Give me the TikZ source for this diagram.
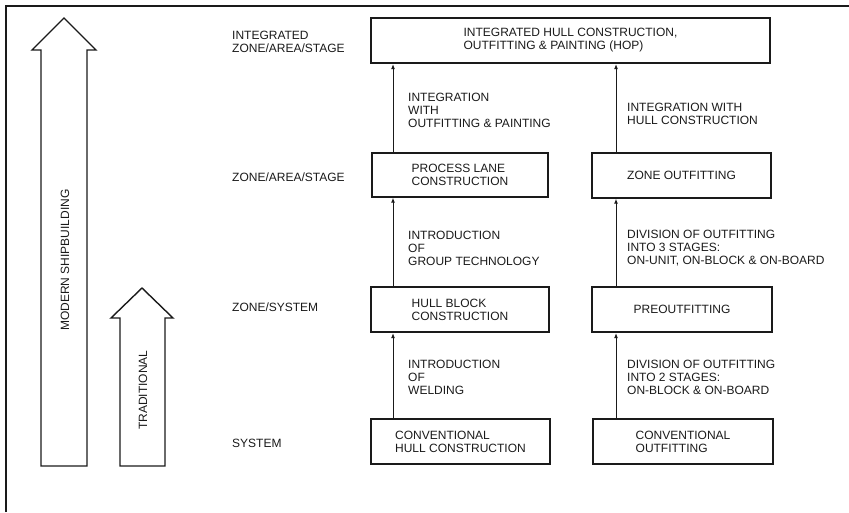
\documentclass[tikz,border=0pt]{standalone}
\usepackage{fontspec}
\setmainfont{Liberation Sans}
\usetikzlibrary{arrows.meta,positioning}
\definecolor{ink}{HTML}{1A1A1A}
\tikzset{
  box/.style={draw=ink,line width=1.4pt,align=left,inner sep=0pt,font=\fontsize{12}{13}\selectfont,text=ink},
  tbox/.style={box,line width=2.2pt},
  lbl/.style={align=left,inner sep=0pt,anchor=west,font=\fontsize{12}{13}\selectfont,text=ink},
  ar/.style={-{Latex[length=5pt,width=4pt]},line width=1pt,draw=ink},
  bigar/.style={draw=ink,line width=1.4pt,line join=miter},
}

\begin{document}
\begin{tikzpicture}[x=1pt,y=-1pt]
\useasboundingbox (0,0) rectangle (849,512);
\draw[ink,line width=2pt] (6,512) -- (6,6) -- (849,6);

% hollow arrows on the left
\draw[bigar] (41,466) -- (41,50) -- (32,50) -- (64,18) -- (96,50) -- (87,50) -- (87,466) -- cycle;
\draw[bigar] (120,466) -- (120,318) -- (111,318) -- (142,288) -- (173,318) -- (165,318) -- (165,466) -- cycle;
\node[lbl,anchor=center,rotate=90] (modern) at (65,260) {MODERN SHIPBUILDING};
\node[lbl,anchor=center,rotate=90] (trad) at (143,390) {TRADITIONAL};

% stage labels
\node[lbl] (sint) at (232,41.5) {INTEGRATED\\ZONE/AREA/STAGE};
\node[lbl] (szas) at (232,177) {ZONE/AREA/STAGE};
\node[lbl] (szs) at (232,307) {ZONE/SYSTEM};
\node[lbl] (ssys) at (232,443) {SYSTEM};

% boxes
\node[tbox,minimum width=399,minimum height=45] (hop) at (570.5,40.5) {INTEGRATED HULL CONSTRUCTION,\\OUTFITTING \& PAINTING (HOP)};
\node[box,minimum width=176,minimum height=44] (plc) at (460,175) {PROCESS LANE\\CONSTRUCTION};
\node[box,minimum width=179,minimum height=45] (zo) at (681.5,175.5) {ZONE OUTFITTING};
\node[tbox,minimum width=178,minimum height=45] (hb) at (460,309.5) {HULL BLOCK\\CONSTRUCTION};
\node[tbox,minimum width=180,minimum height=45] (pre) at (682,309.5) {PREOUTFITTING};
\node[box,minimum width=179,minimum height=45] (chc) at (460.5,441.5) {CONVENTIONAL\\HULL CONSTRUCTION};
\node[box,minimum width=180,minimum height=45] (co) at (683,441.5) {CONVENTIONAL\\OUTFITTING};

% connectors
\coordinate (lx) at (393,0);
\coordinate (rx) at (616,0);
\draw[ar] (chc.north -| lx) -- (hb.south -| lx);
\draw[ar] (hb.north -| lx) -- (plc.south -| lx);
\draw[ar] (plc.north -| lx) -- (hop.south -| lx);
\draw[ar] (co.north -| rx) -- (pre.south -| rx);
\draw[ar] (pre.north -| rx) -- (zo.south -| rx);
\draw[ar] (zo.north -| rx) -- (hop.south -| rx);

% step labels
\node[lbl] (lweld) at (408,377) {INTRODUCTION\\OF\\WELDING};
\node[lbl] (lgt) at (408,248) {INTRODUCTION\\OF\\GROUP TECHNOLOGY};
\node[lbl] (lop) at (408,110) {INTEGRATION\\WITH\\OUTFITTING \& PAINTING};
\node[lbl] (ltwo) at (627,377) {DIVISION OF OUTFITTING\\INTO 2 STAGES:\\ON-BLOCK \& ON-BOARD};
\node[lbl] (lthree) at (627,248) {DIVISION OF OUTFITTING\\INTO 3 STAGES:\\ON-UNIT, ON-BLOCK \& ON-BOARD};
\node[lbl] (lhull) at (627,113.5) {INTEGRATION WITH\\HULL CONSTRUCTION};
\end{tikzpicture}
\end{document}
